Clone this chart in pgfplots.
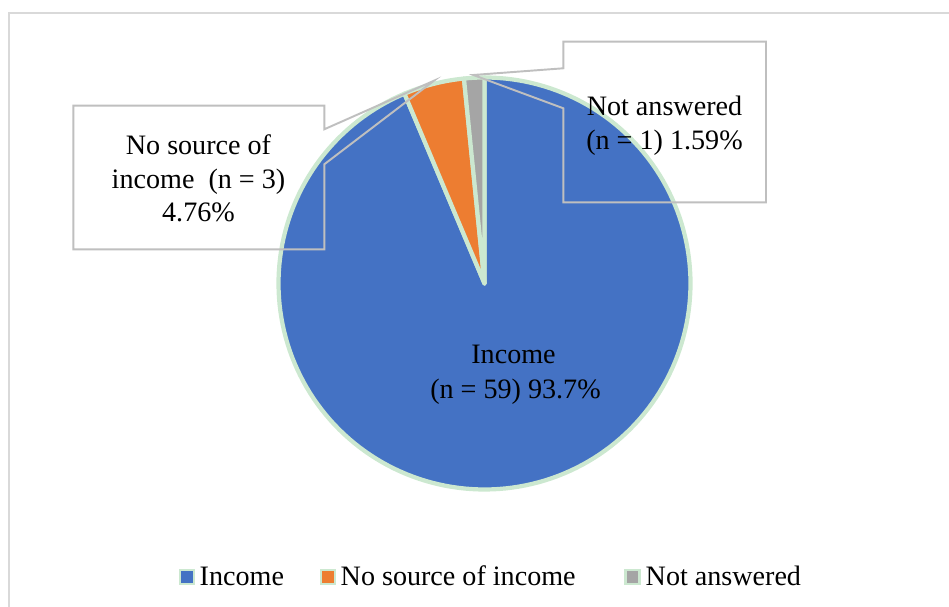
\documentclass[border=0pt]{standalone}
\usepackage{pgfplots}
\usepackage{pgfplotstable}
\pgfplotsset{compat=1.18}
\usepackage{fontspec}
\setmainfont{Liberation Serif}
\definecolor{cIncome}{HTML}{4472C4}
\definecolor{cNoSrc}{HTML}{ED7D31}
\definecolor{cNA}{HTML}{A5A5A5}
\definecolor{cEdge}{RGB}{204,232,208}
\definecolor{cCall}{RGB}{191,191,191}
\definecolor{cFrame}{RGB}{217,217,217}

\pgfplotstableread{
category n
Income 59
NoSource 3
NotAnswered 1
}\piedata
\pgfplotstablegetelem{0}{n}\of\piedata \let\nA\pgfplotsretval
\pgfplotstablegetelem{1}{n}\of\piedata \let\nB\pgfplotsretval
\pgfplotstablegetelem{2}{n}\of\piedata \let\nC\pgfplotsretval
\pgfmathsetmacro\total{\nA+\nB+\nC}
\pgfmathsetmacro\aA{90}
\pgfmathsetmacro\aB{\aA-(\nA/\total)*360}
\pgfmathsetmacro\aC{\aB-(\nB/\total)*360}
\pgfmathsetmacro\aD{\aC-(\nC/\total)*360}

\begin{document}
\begin{tikzpicture}
\useasboundingbox (0,0) rectangle (9.49cm,6.07cm);
\begin{axis}[
  at={(0,0)}, anchor=south west,
  scale only axis, width=9.49cm, height=6.07cm,
  xmin=0, xmax=949, ymin=0, ymax=607, y dir=reverse,
  hide axis, clip=false,
  font=\fontsize{8.0}{9.6}\selectfont,
]
% outer chart frame (only left and top edges visible)
\draw[cFrame, line width=0.45pt] (9,640) -- (9,13) -- (980,13);

% pie slices
\addplot[fill=cIncome, draw=cEdge, line width=1.2pt, line join=round, domain=\aB:\aA, samples=181]
  ({484.5+206*cos(x)},{283.5-206*sin(x)}) -- (484.5,283.5) -- cycle;
\addplot[fill=cNoSrc, draw=cEdge, line width=1.2pt, line join=round, domain=\aC:\aB, samples=20]
  ({484.5+206*cos(x)},{283.5-206*sin(x)}) -- (484.5,283.5) -- cycle;
\addplot[fill=cNA, draw=cEdge, line width=1.2pt, line join=round, domain=\aD:\aC, samples=10]
  ({484.5+206*cos(x)},{283.5-206*sin(x)}) -- (484.5,283.5) -- cycle;

% callouts
\draw[cCall, line width=0.55pt] (73.3,105.7) -- (324.3,105.7) -- (324.3,129.3) -- (434,80.7)
  -- (324.3,164.3) -- (324.3,249.3) -- (73.3,249.3) -- cycle;
\draw[cCall, line width=0.55pt] (563.3,41.7) -- (766,41.7) -- (766,202.3) -- (563.3,202.3)
  -- (563.3,108.3) -- (473.3,75) -- (563.3,68.3) -- cycle;

% data labels
\node[anchor=base] at (198.5,154.3) {No source of};
\node[anchor=base] at (198.5,188.3) {income~~(n = 3)};
\node[anchor=base] at (198.5,221.7) {4.76\%};
\node[anchor=base] at (664.5,116) {Not answered};
\node[anchor=base] at (664.5,150) {(n = 1) 1.59\%};
\node[anchor=base] at (513.5,363.3) {Income};
\node[anchor=base] at (515.5,398.3) {(n = 59) 93.7\%};

% legend
\draw[cEdge, fill=cIncome, line width=0.85pt] (180,570) rectangle (194,584);
\node[anchor=base west, inner sep=0pt] at (199,586) {Income};
\draw[cEdge, fill=cNoSrc, line width=0.85pt] (321,570) rectangle (335,584);
\node[anchor=base west, inner sep=0pt] at (340,586) {No source of income};
\draw[cEdge, fill=cNA, line width=0.85pt] (625,570) rectangle (639,584);
\node[anchor=base west, inner sep=0pt] at (645,586) {Not answered};
\end{axis}
\end{tikzpicture}
\end{document}
